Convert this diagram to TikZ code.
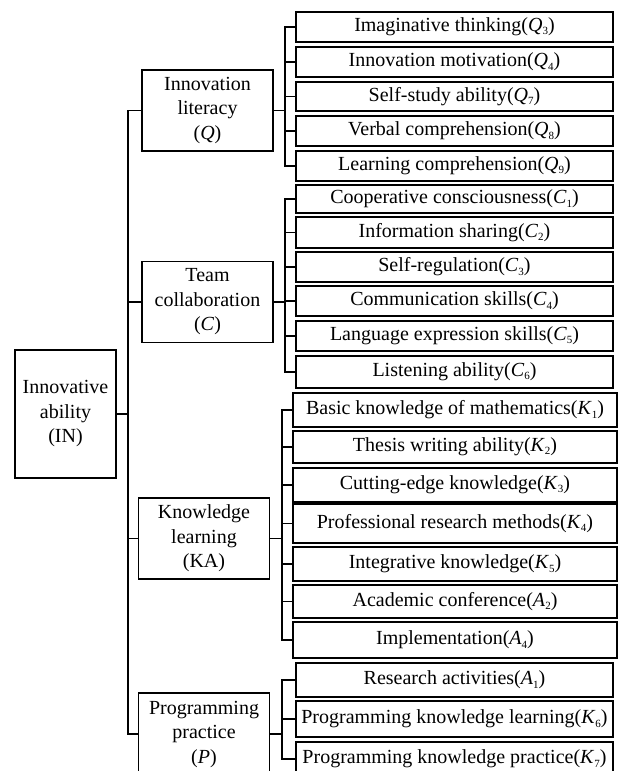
\documentclass[tikz,border=0pt]{standalone}
\usepackage{fontspec}
\setmainfont{Liberation Serif}
\newcommand\ix[2]{\textit{#1}\raisebox{-0.35ex}{\fontsize{11}{11}\selectfont #2}}
\tikzset{
  box/.style={draw, line width=1.1pt, inner sep=0pt, outer sep=0pt, align=center,
    font=\fontsize{20}{24.5}\selectfont},
  leaf/.style={box, minimum width=317pt},
  kleaf/.style={box, minimum width=324pt},
  mid/.style={box, minimum width=131pt, minimum height=81pt},
  ln/.style={line width=1.1pt},
  bold/.style={line width=1.8pt}
}
\begin{document}
\begin{tikzpicture}[x=1pt,y=-1pt]
\useasboundingbox (0,0) rectangle (620,771);
\clip (0,0) rectangle (620,771);
% root
\node[box, minimum width=101pt, minimum height=128pt] (IN) at (65.5,414) {Innovative\\ability\\(IN)};
% level 2
\node[mid] (Q) at (207.5,110.5) {Innovation\\literacy\\(\textit{Q})};
\node[mid] (C) at (207.5,302) {Team\\collaboration\\(\textit{C})};
\node[mid] (KA) at (204,538.5) {Knowledge\\learning\\(KA)};
\node[mid, minimum height=82pt] (P) at (204,734) {Programming\\practice\\(\textit{P})};
% leaves Q
\node[leaf, minimum height=30pt] (Q3) at (454.5,27) {Imaginative thinking(\ix{Q}{3})};
\node[leaf, minimum height=30pt] (Q4) at (454.5,62) {Innovation motivation(\ix{Q}{4})};
\node[leaf, minimum height=29pt] (Q7) at (454.5,96.5) {Self-study ability(\ix{Q}{7})};
\node[leaf, minimum height=30pt] (Q8) at (454.5,131) {Verbal comprehension(\ix{Q}{8})};
\node[leaf, minimum height=30pt] (Q9) at (454.5,166) {Learning comprehension(\ix{Q}{9})};
% leaves C
\node[leaf, minimum height=28pt] (C1) at (454.5,199) {Cooperative consciousness(\ix{C}{1})};
\node[leaf, minimum height=31pt] (C2) at (454.5,232.5) {Information sharing(\ix{C}{2})};
\node[leaf, minimum height=30pt] (C3) at (454.5,267) {Self-regulation(\ix{C}{3})};
\node[leaf, minimum height=30pt] (C4) at (454.5,301) {Communication skills(\ix{C}{4})};
\node[leaf, minimum height=30pt] (C5) at (454.5,336) {Language expression skills(\ix{C}{5})};
\node[leaf, minimum height=32pt] (C6) at (454.5,372) {Listening ability(\ix{C}{6})};
% leaves K
\node[kleaf, minimum height=34pt] (K1) at (455,410) {Basic knowledge of mathematics(\ix{K}{1})};
\node[kleaf, minimum height=32pt] (K2) at (455,447) {Thesis writing ability(\ix{K}{2})};
\node[kleaf, minimum height=34pt] (K3) at (455,485) {Cutting-edge knowledge(\ix{K}{3})};
\node[kleaf, minimum height=39pt] (K4) at (455,523.5) {Professional research methods(\ix{K}{4})};
\node[kleaf, minimum height=34pt] (K5) at (455,564) {Integrative knowledge(\ix{K}{5})};
\node[kleaf, minimum height=33pt] (A2) at (455,601.5) {Academic conference(\ix{A}{2})};
\node[kleaf, minimum height=36pt] (A4) at (455,640) {Implementation(\ix{A}{4})};
% leaves P
\node[leaf, minimum height=34pt] (A1) at (454.5,680) {Research activities(\ix{A}{1})};
\node[leaf, minimum height=36pt] (K6) at (454.5,719) {Programming knowledge learning(\ix{K}{6})};
\node[leaf, minimum height=34pt] (K7) at (454.5,759) {Programming knowledge practice(\ix{K}{7})};
% bracket coordinates
\coordinate (xt) at (128,0);
\coordinate (xq) at (285,0);
\coordinate (xk) at (282,0);
% trunk
\draw[ln] (Q.west) -- (Q.west -| xt) -- (P.west -| xt) -- (P.west);
\draw[ln] (C.west) -- (C.west -| xt);
\draw[ln] (KA.west) -- (KA.west -| xt);
\draw[bold] (IN.east) -- (IN.east -| xt);
% Q bracket
\draw[bold] (Q.east) -- (Q.east -| xq);
\draw[ln] (Q3.west) -- (Q3.west -| xq) -- (Q9.west -| xq) -- (Q9.west);
\foreach \n in {Q4,Q7,Q8} \draw[ln] (\n.west) -- (\n.west -| xq);
% C bracket
\draw[bold] (C.east) -- (C.east -| xq);
\draw[ln] (C1.west) -- (C1.west -| xq) -- (C6.west -| xq) -- (C6.west);
\foreach \n in {C2,C3,C4,C5} \draw[ln] (\n.west) -- (\n.west -| xq);
% K bracket
\draw[bold] (KA.east) -- (KA.east -| xk);
\draw[ln] (K1.west) -- (K1.west -| xk) -- (A4.west -| xk) -- (A4.west);
\foreach \n in {K2,K3,K4,K5,A2} \draw[ln] (\n.west) -- (\n.west -| xk);
% P bracket
\draw[bold] (P.east) -- (P.east -| xk);
\draw[ln] (A1.west) -- (A1.west -| xk) -- (K7.west -| xk) -- (K7.west);
\draw[ln] (K6.west) -- (K6.west -| xk);
\end{tikzpicture}
\end{document}
